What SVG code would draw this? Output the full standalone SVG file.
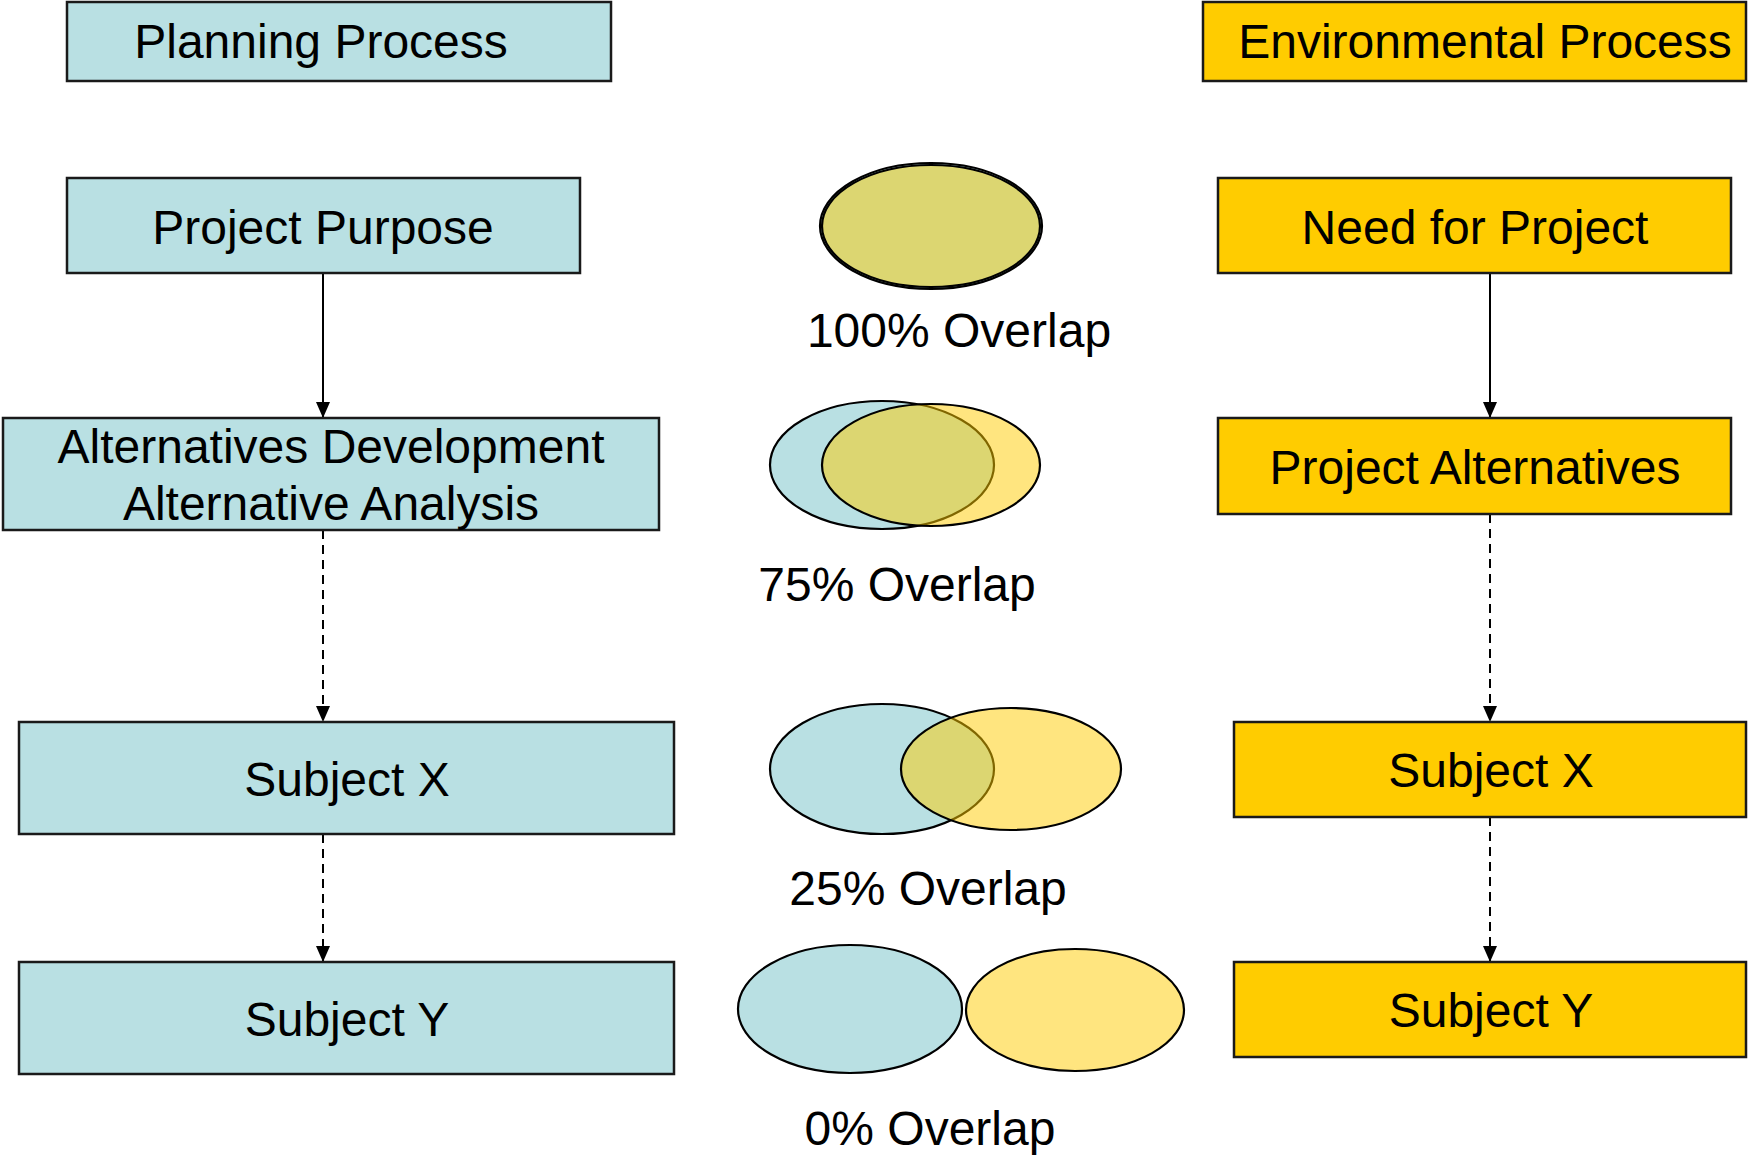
<svg xmlns="http://www.w3.org/2000/svg" width="1748" height="1155" viewBox="0 0 1748 1155">
<defs>
<style>
.bl{fill:#B9E0E3;stroke:#1a1a1a;stroke-width:2.5}
.yl{fill:#FFCC00;stroke:#1a1a1a;stroke-width:2.5}
.t{font-family:"Liberation Sans",Arial,sans-serif;font-size:48px;fill:#000;text-anchor:middle}
.eb{fill:#B9E0E3;stroke:#000;stroke-width:2.2}
.ey{fill:#FFCC00;fill-opacity:0.5;stroke:#000;stroke-width:2.2}
.c{stroke:#000;stroke-width:2;fill:none}
.d{stroke-dasharray:9 6}
</style>
<marker id="ah" viewBox="0 0 16 14" refX="16" refY="7" markerWidth="16" markerHeight="14" markerUnits="userSpaceOnUse" orient="auto">
<path d="M0,0 L16,7 L0,14 Z" fill="#000"/>
</marker>
</defs>
<rect width="1748" height="1155" fill="#fff"/>

<g id="connectors">
<line class="c" x1="323" y1="273" x2="323" y2="418" marker-end="url(#ah)"/>
<line class="c d" x1="323" y1="530" x2="323" y2="722" marker-end="url(#ah)"/>
<line class="c d" x1="323" y1="834" x2="323" y2="962" marker-end="url(#ah)"/>
<line class="c" x1="1490" y1="273" x2="1490" y2="418" marker-end="url(#ah)"/>
<line class="c d" x1="1490" y1="514" x2="1490" y2="722" marker-end="url(#ah)"/>
<line class="c d" x1="1490" y1="817" x2="1490" y2="962" marker-end="url(#ah)"/>
</g>

<g id="planning-process"><rect class="bl" x="67" y="2" width="544" height="79"/><text class="t" x="321" y="58">Planning Process</text></g>
<g id="project-purpose"><rect class="bl" x="67" y="178" width="513" height="95"/><text class="t" x="323" y="244">Project Purpose</text></g>
<g id="alternatives-development"><rect class="bl" x="3" y="418" width="656" height="112"/><text class="t" x="331" y="463">Alternatives Development</text><text class="t" x="331" y="520">Alternative Analysis</text></g>
<g id="subject-x-left"><rect class="bl" x="19" y="722" width="655" height="112"/><text class="t" x="347" y="796">Subject X</text></g>
<g id="subject-y-left"><rect class="bl" x="19" y="962" width="655" height="112"/><text class="t" x="347" y="1036">Subject Y</text></g>

<g id="environmental-process"><rect class="yl" x="1203" y="2" width="543" height="79"/><text class="t" x="1485" y="58">Environmental Process</text></g>
<g id="need-for-project"><rect class="yl" x="1218" y="178" width="513" height="95"/><text class="t" x="1475" y="244">Need for Project</text></g>
<g id="project-alternatives"><rect class="yl" x="1218" y="418" width="513" height="96"/><text class="t" x="1475" y="484">Project Alternatives</text></g>
<g id="subject-x-right"><rect class="yl" x="1234" y="722" width="512" height="95"/><text class="t" x="1491" y="787">Subject X</text></g>
<g id="subject-y-right"><rect class="yl" x="1234" y="962" width="512" height="95"/><text class="t" x="1491" y="1027">Subject Y</text></g>

<g id="overlap-100">
<ellipse class="eb" cx="931" cy="226" rx="111" ry="63" stroke-width="3"/>
<ellipse class="ey" cx="931" cy="226" rx="109" ry="61" stroke-width="2.5"/>
<text class="t" x="959" y="347">100% Overlap</text>
</g>
<g id="overlap-75">
<ellipse class="eb" cx="882" cy="465" rx="112" ry="64"/>
<ellipse class="ey" cx="931" cy="465" rx="109" ry="61"/>
<text class="t" x="897" y="601">75% Overlap</text>
</g>
<g id="overlap-25">
<ellipse class="eb" cx="882" cy="769" rx="112" ry="65"/>
<ellipse class="ey" cx="1011" cy="769" rx="110" ry="61"/>
<text class="t" x="928" y="905">25% Overlap</text>
</g>
<g id="overlap-0">
<ellipse class="eb" cx="850" cy="1009" rx="112" ry="64"/>
<ellipse class="ey" cx="1075" cy="1010" rx="109" ry="61"/>
<text class="t" x="930" y="1145">0% Overlap</text>
</g>
</svg>
